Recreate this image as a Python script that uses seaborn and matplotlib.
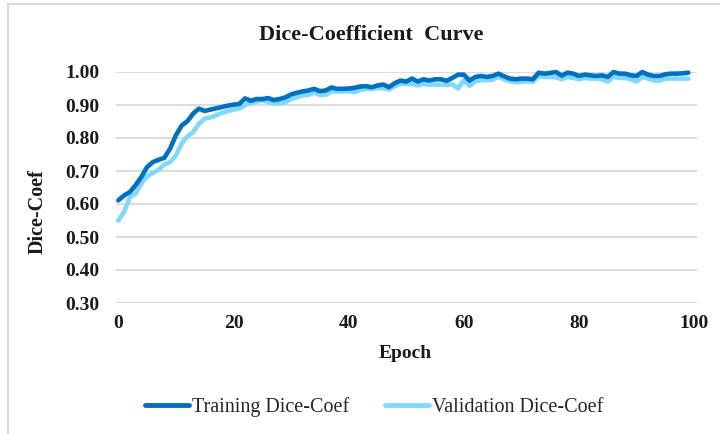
import pandas as pd
import matplotlib.pyplot as plt
from matplotlib.lines import Line2D
import seaborn as sns

# Datos (epocas 0..99)
epochs = list(range(100))
train_dice = [
    0.611, 0.626, 0.636, 0.657, 0.682, 0.712, 0.727, 0.734, 0.740, 0.768,
    0.808, 0.838, 0.851, 0.874, 0.889, 0.882, 0.886, 0.890, 0.894, 0.898,
    0.901, 0.903, 0.920, 0.913, 0.918, 0.918, 0.921, 0.915, 0.918, 0.923,
    0.932, 0.937, 0.941, 0.944, 0.949, 0.942, 0.944, 0.953, 0.949, 0.949,
    0.950, 0.952, 0.956, 0.957, 0.954, 0.959, 0.962, 0.954, 0.966, 0.974,
    0.971, 0.980, 0.971, 0.978, 0.974, 0.978, 0.978, 0.973, 0.982, 0.992,
    0.992, 0.974, 0.985, 0.988, 0.985, 0.988, 0.995, 0.987, 0.980, 0.978,
    0.980, 0.980, 0.978, 0.998, 0.995, 0.997, 1.000, 0.989, 0.998, 0.995,
    0.988, 0.992, 0.990, 0.988, 0.990, 0.985, 1.000, 0.995, 0.995, 0.990,
    0.988, 1.000, 0.992, 0.988, 0.988, 0.993, 0.995, 0.995, 0.996, 0.998,
]
val_dice = [
    0.550, 0.576, 0.621, 0.631, 0.662, 0.684, 0.694, 0.704, 0.720, 0.727,
    0.747, 0.783, 0.805, 0.818, 0.843, 0.859, 0.862, 0.869, 0.876, 0.882,
    0.886, 0.889, 0.900, 0.906, 0.910, 0.913, 0.910, 0.905, 0.905, 0.908,
    0.918, 0.923, 0.929, 0.931, 0.937, 0.931, 0.931, 0.941, 0.941, 0.941,
    0.942, 0.939, 0.946, 0.949, 0.949, 0.951, 0.951, 0.947, 0.957, 0.964,
    0.964, 0.964, 0.959, 0.964, 0.961, 0.962, 0.961, 0.961, 0.963, 0.950,
    0.975, 0.958, 0.972, 0.975, 0.975, 0.977, 0.985, 0.978, 0.972, 0.969,
    0.970, 0.972, 0.970, 0.988, 0.985, 0.985, 0.984, 0.978, 0.985, 0.982,
    0.978, 0.982, 0.980, 0.980, 0.978, 0.971, 0.985, 0.982, 0.982, 0.978,
    0.971, 0.985, 0.980, 0.974, 0.974, 0.980, 0.980, 0.980, 0.980, 0.980,
]
series_names = ['Training Dice-Coef', 'Validation Dice-Coef']
series_colors = ['#0070C0', '#7FD9FF']
y_ticks = [0.30, 0.40, 0.50, 0.60, 0.70, 0.80, 0.90, 1.00]
x_ticks = [0, 20, 40, 60, 80, 100]

df = pd.DataFrame({
    'Epoch': epochs * 2,
    'Dice': train_dice + val_dice,
    'Serie': [series_names[0]] * len(epochs) + [series_names[1]] * len(epochs),
})

sns.set_theme(style="white")
plt.rcParams['font.family'] = ['Liberation Serif', 'DejaVu Serif']

fig = plt.figure(figsize=(7.2, 4.34), dpi=100)
ax = fig.add_axes([116 / 720, 1 - 303 / 434, (697 - 116) / 720, (303 - 72) / 434])

# validacion primero, entrenamiento encima
for name, color in zip(series_names[::-1], series_colors[::-1]):
    sub = df[df['Serie'] == name]
    sns.lineplot(data=sub, x='Epoch', y='Dice', color=color, linewidth=3.3,
                 ax=ax, clip_on=False, legend=False, solid_capstyle='round')

ax.set_xlim(-0.4, 100.5)
ax.set_ylim(0.30, 1.00)
ax.set_yticks(y_ticks)
ax.set_yticklabels([f'{v:.2f}' for v in y_ticks])
ax.set_xticks(x_ticks)
ax.grid(True, axis='y', color='#D9D9D9', linewidth=1.3)
ax.grid(False, axis='x')
ax.set_axisbelow(True)
for s in ax.spines.values():
    s.set_visible(False)
ax.tick_params(axis='both', length=0, labelsize=14, colors='#1a1a1a')
ax.tick_params(axis='y', pad=12)
ax.tick_params(axis='x', pad=9)
for lab in ax.get_xticklabels() + ax.get_yticklabels():
    lab.set_fontweight('bold')

ax.set_xlabel('')
ax.set_ylabel('')
fig.text(405 / 720, 1 - 353 / 434, 'Epoch', ha='center', va='center',
         fontsize=14, fontweight='bold', color='#1a1a1a')
fig.text(38 / 720, 1 - 212 / 434, 'Dice-Coef', ha='center', va='center',
         rotation=90, fontsize=14.5, fontweight='bold', color='#1a1a1a')
fig.text(371 / 720, 1 - 35 / 434, 'Dice-Coefficient  Curve', ha='center', va='center',
         fontsize=16, fontweight='bold', color='#1a1a1a')

handles = [Line2D([0], [0], color=c, linewidth=3.5, solid_capstyle='round') for c in series_colors]
fig.legend(handles, series_names, loc='center', bbox_to_anchor=(374 / 720, 1 - 407 / 434),
           ncol=2, frameon=False, fontsize=14.5, handlelength=2.2, handletextpad=0.12,
           columnspacing=1.8)

# marco del grafico
fig.add_artist(Line2D([8 / 720, 1], [1 - 4 / 434, 1 - 4 / 434], color='#D9D9D9', linewidth=1.5))
fig.add_artist(Line2D([8 / 720, 8 / 720], [0, 1 - 4 / 434], color='#D9D9D9', linewidth=1.5))

fig.savefig('out.png', dpi=100)
